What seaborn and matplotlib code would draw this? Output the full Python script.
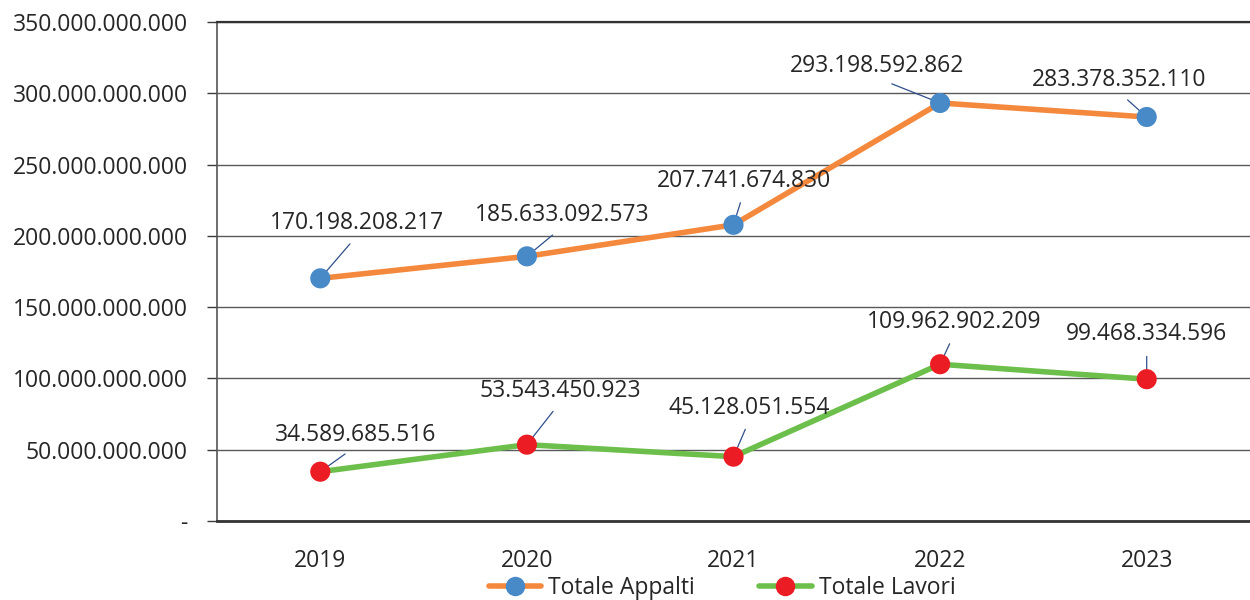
import matplotlib
matplotlib.use("Agg")
import matplotlib.pyplot as plt
from matplotlib.lines import Line2D
from matplotlib.ticker import FuncFormatter
import seaborn as sns
import numpy as np
import pandas as pd

anni = ["2019", "2020", "2021", "2022", "2023"]
totale_appalti = [170198208217, 185633092573, 207741674830, 293198592862, 283378352110]
totale_lavori = [34589685516, 53543450923, 45128051554, 109962902209, 99468334596]

# posizione delle etichette (pixel rispetto al punto)
off_appalti = [(37, 55), (35, 41), (10, 44), (-63, 37), (-28, 37)]
off_lavori = [(35, 37), (33, 54), (16, 49), (14, 42), (0, 45)]

col_linea = {"Totale Appalti": "#F4883D", "Totale Lavori": "#6CBF4A"}
col_punto = {"Totale Appalti": "#4889C8", "Totale Lavori": "#EC1C24"}

df = pd.DataFrame({
    "anno": anni * 2,
    "valore": totale_appalti + totale_lavori,
    "serie": ["Totale Appalti"] * 5 + ["Totale Lavori"] * 5,
})

FS = 16.5

sns.set_style("white")
plt.rcParams["font.family"] = ["Open Sans", "DejaVu Sans"]
plt.rcParams["text.color"] = "#262626"

fig = plt.figure(figsize=(12.5, 6), dpi=100)
ax = fig.add_axes([217 / 1250, 1 - 521 / 600, 1 - 217 / 1250, (521 - 22) / 600])

sns.lineplot(data=df, x="anno", y="valore", hue="serie", palette=col_linea,
             linewidth=4, legend=False, ax=ax, zorder=3)
sns.scatterplot(data=df, x="anno", y="valore", hue="serie", palette=col_punto,
                s=210, linewidth=0, legend=False, ax=ax, zorder=5)

def fmt_num(v):
    return f"{v:,.0f}".replace(",", ".")

for serie, offs in [(totale_appalti, off_appalti), (totale_lavori, off_lavori)]:
    for i, (v, (dx, dy)) in enumerate(zip(serie, offs)):
        ax.annotate(fmt_num(v), xy=(i, v), xytext=(dx, dy), textcoords="offset pixels",
                    ha="center", va="center", fontsize=FS, color="#262626", zorder=4,
                    arrowprops=dict(arrowstyle="-", color="#2F4F8A", lw=0.9,
                                    relpos=(0.5, 0), shrinkA=5, shrinkB=0))

ax.set_ylim(0, 350e9)
ax.set_xlim(-0.5, 4.443)
ax.set_yticks(np.arange(0, 351e9, 50e9))
ax.yaxis.set_major_formatter(FuncFormatter(lambda v, p: "-" if v == 0 else fmt_num(v)))
ax.grid(axis="y", color="#595959", linewidth=1)
ax.set_axisbelow(True)

ax.set_xticks(range(len(anni)))
ax.set_xticklabels(anni)
ax.set_xticks(np.arange(-0.5, len(anni), 1), minor=True)
ax.tick_params(axis="x", which="major", length=0, pad=20, labelsize=FS, labelcolor="#262626")
ax.tick_params(axis="x", which="minor", length=7, width=1.2, color="#3a3a3a", direction="out")
ax.tick_params(axis="y", left=True, length=7, width=1, color="#3a3a3a", direction="out",
               pad=14, labelsize=FS, labelcolor="#262626")
ax.set_xlabel("")
ax.set_ylabel("")

ax.spines["right"].set_visible(False)
ax.spines["top"].set_color("#333333")
ax.spines["top"].set_linewidth(1.6)
ax.spines["bottom"].set_color("#333333")
ax.spines["bottom"].set_linewidth(2)
ax.spines["left"].set_color("#555555")
ax.spines["left"].set_linewidth(1.2)

handles = [Line2D([], [], color=col_linea[k], lw=4, marker="o", markersize=14,
                  markerfacecolor=col_punto[k], markeredgewidth=0, label=k)
           for k in ["Totale Appalti", "Totale Lavori"]]
fig.legend(handles=handles, loc="center", bbox_to_anchor=(722 / 1250, 1 - 588 / 600),
           ncol=2, frameon=False, fontsize=FS, handlelength=2.3, handletextpad=0.3,
           columnspacing=2.8)

fig.savefig("out.png", dpi=100)
